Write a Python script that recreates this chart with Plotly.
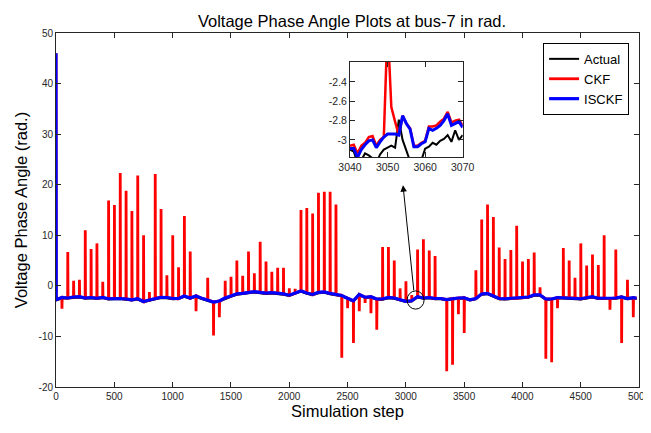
import plotly.graph_objects as go

# ---------------- data ----------------
x_ticks = [0, 500, 1000, 1500, 2000, 2500, 3000, 3500, 4000, 4500, 5000]
y_ticks = [-20, -10, 0, 10, 20, 30, 40, 50]
y_tick_labels = ["-20", "-10", "0", "10", "20", "30", "40", "50"]

init_step = 0
init_value = 46.0

base_steps = [2] + list(range(50, 4951, 50)) + [4980]
isckf_base = [
    -2.75, -2.3, -2.4, -2.2, -2.15, -2.4, -2.3, -2.45, -2.3, -2.55,
    -2.45, -2.5, -2.6, -2.75, -2.55, -3.1, -2.8, -2.45, -2.25, -2.3,
    -2.5, -2.5, -2.0, -2.4, -2.0, -2.45, -2.75, -3.2, -3.0, -2.4,
    -2.0, -1.6, -1.5, -1.3, -1.15, -1.3, -1.45, -1.35, -1.4, -1.6,
    -1.85, -1.45, -1.0, -1.4, -1.7, -1.3, -1.2, -1.5, -1.75, -1.9,
    -2.45, -2.95, -1.7, -2.25, -2.15, -2.6, -2.6, -2.3, -2.4, -2.75,
    -3.05, -2.94, -2.15, -2.4, -2.3, -2.5, -2.5, -2.7, -2.5, -2.4,
    -2.35, -2.75, -2.5, -1.6, -1.5, -2.0, -2.5, -2.55, -2.45, -2.45,
    -2.35, -2.2, -1.8, -1.8, -2.6, -2.6, -2.3, -2.35, -2.35, -2.4,
    -2.55, -2.35, -2.15, -2.45, -2.45, -2.5, -2.4, -2.2, -2.5, -2.35,
    -2.45,
]
actual_base = [
    -2.9, -2.45, -2.5, -2.35, -2.3, -2.55, -2.45, -2.6, -2.4, -2.7,
    -2.6, -2.6, -2.75, -2.9, -2.7, -3.25, -2.95, -2.6, -2.4, -2.45,
    -2.65, -2.6, -2.15, -2.55, -2.15, -2.6, -2.9, -3.35, -3.1, -2.55,
    -2.15, -1.75, -1.65, -1.45, -1.3, -1.45, -1.6, -1.5, -1.55, -1.75,
    -2.0, -1.6, -1.15, -1.55, -1.85, -1.45, -1.35, -1.65, -1.9, -2.05,
    -2.6, -3.1, -1.85, -2.4, -2.3, -2.75, -2.75, -2.45, -2.55, -2.9,
    -3.2, -3.08, -2.3, -2.55, -2.45, -2.65, -2.65, -2.85, -2.65, -2.55,
    -2.5, -2.9, -2.65, -1.75, -1.65, -2.15, -2.65, -2.7, -2.6, -2.6,
    -2.5, -2.35, -1.95, -1.95, -2.75, -2.75, -2.45, -2.5, -2.5, -2.55,
    -2.7, -2.5, -2.3, -2.6, -2.6, -2.65, -2.55, -2.35, -2.65, -2.5,
    -2.6,
]

spike_steps = [
    50, 100, 150, 200, 250, 300, 350, 400, 450, 500,
    550, 600, 650, 700, 750, 800, 850, 900, 950, 1000,
    1050, 1100, 1150, 1200, 1300, 1350, 1400, 1450, 1500, 1550,
    1600, 1650, 1700, 1750, 1800, 1850, 1900, 1950, 2000, 2050,
    2100, 2150, 2200, 2250, 2300, 2350, 2400, 2450, 2500, 2550,
    2600, 2650, 2700, 2750, 2800, 2850, 2900, 2950, 3000, 3050,
    3100, 3150, 3200, 3250, 3350, 3400, 3450, 3500, 3600, 3650,
    3700, 3750, 3800, 3850, 3900, 3950, 4000, 4050, 4100, 4150,
    4200, 4250, 4300, 4350, 4400, 4450, 4500, 4550, 4600, 4650,
    4700, 4750, 4800, 4850, 4900, 4950,
]
spike_values = [
    -4.5, 6.7, 1.0, 1.2, 11.0, 7.3, 8.4, 0.8, 16.9, 16.0,
    22.3, 18.8, 14.8, 21.8, 10.0, -1.2, 22.1, 15.2, 2.1, 10.0,
    3.7, 13.8, 6.8, -5.0, 1.6, -9.8, -6.2, 1.0, 1.8, 5.0,
    2.0, 6.8, 2.5, 8.7, 4.8, 2.8, 3.6, 3.6, -0.5, -0.6,
    15.0, 15.4, 14.3, 18.4, 18.6, 18.6, 16.1, -14.2, -4.4, -11.3,
    -5.0, -3.4, -5.4, -8.7, 7.7, 7.7, 5.0, -0.5, 0.9, -1.8,
    7.2, 9.2, 7.0, 5.9, -16.9, -15.6, -5.6, -9.3, 3.1, 13.1,
    16.1, 13.6, 7.6, 5.3, 7.1, 11.9, 4.8, 5.3, 6.6, -0.3,
    -14.4, -15.1, -4.4, 7.5, 5.0, 1.6, 8.4, 4.0, 6.2, 4.1,
    10.0, -4.7, 7.2, -11.3, 1.2, -6.2,
]

inset_steps = list(range(3040, 3071))
inset_actual = [
    -3.10, -3.12, -3.24, -3.21, -3.14, -3.16, -3.19, -3.24, -3.15, -3.10,
    -3.08, -3.06, -3.08, -2.79, -3.00, -3.10, -3.22, -3.27, -3.26, -3.21,
    -3.09, -3.07, -3.03, -3.05, -3.01, -2.99, -2.95, -3.02, -2.90, -3.00,
    -2.95,
]
inset_ckf = [
    -3.06, -3.05, -3.14, -3.06, -3.03, -2.97, -2.96, -3.06, -3.00, -2.97,
    -1.80, -2.66, -2.81, -2.95, -2.75, -2.83, -2.88, -3.06, -3.06, -3.03,
    -3.01, -2.86, -2.86, -2.85, -2.81, -2.78, -2.71, -2.82, -2.80, -2.79,
    -2.85,
]
inset_isckf = [
    -3.09, -3.09, -3.18, -3.10, -3.05, -3.01, -3.00, -3.08, -3.02, -2.97,
    -2.94, -2.94, -2.94, -2.95, -2.75, -2.83, -2.89, -3.07, -3.07, -3.04,
    -3.02, -2.88, -2.90, -2.88, -2.85, -2.80, -2.73, -2.85, -2.83, -2.81,
    -2.87,
]
inset_x_ticks = [3040, 3050, 3060, 3070]
inset_y_ticks = [-3.0, -2.8, -2.6, -2.4]
inset_y_labels = ["-3", "-2.8", "-2.6", "-2.4"]

# ---------------- build CKF polyline ----------------
spikes = dict(zip(spike_steps, spike_values))
ckf_x, ckf_y = [init_step], [init_value]
for s, b in zip(base_steps, isckf_base):
    ckf_x.append(s)
    ckf_y.append(b)
    if s in spikes:
        ckf_x += [s + 1, s + 3]
        ckf_y += [spikes[s], b]

isckf_x = [init_step] + base_steps
isckf_y = [init_value] + isckf_base

BLACK, RED, BLUE = "#000000", "#ff0000", "#0000ff"

fig = go.Figure()
fig.add_trace(go.Scatter(x=base_steps, y=actual_base, mode="lines", name="Actual",
                         line=dict(color=BLACK, width=2)))
fig.add_trace(go.Scatter(x=ckf_x, y=ckf_y, mode="lines", name="CKF",
                         line=dict(color=RED, width=2.8)))
fig.add_trace(go.Scatter(x=isckf_x, y=isckf_y, mode="lines", name="ISCKF",
                         line=dict(color=BLUE, width=3.2)))

# inset
fig.add_trace(go.Scatter(x=inset_steps, y=inset_actual, mode="lines", showlegend=False,
                         line=dict(color=BLACK, width=2), xaxis="x2", yaxis="y2"))
fig.add_trace(go.Scatter(x=inset_steps, y=inset_ckf, mode="lines", showlegend=False,
                         line=dict(color=RED, width=2.5), xaxis="x2", yaxis="y2"))
fig.add_trace(go.Scatter(x=inset_steps, y=inset_isckf, mode="lines", showlegend=False,
                         line=dict(color=BLUE, width=3), xaxis="x2", yaxis="y2"))


def axis_style(size):
    return dict(ticks="inside", ticklen=5, tickcolor="#262626", showline=True,
                linecolor="#262626", linewidth=1, mirror="ticks", showgrid=False,
                zeroline=False, automargin=False, tickfont=dict(size=size, color="#262626"))


# the page body adds an 8px offset, so the figure is 8px smaller on each axis
fig.update_layout(
    width=643, height=425,
    margin=dict(l=48, r=12, t=25, b=46, autoexpand=False),
    paper_bgcolor="white", plot_bgcolor="white",
    font=dict(family="Liberation Sans, Arial, sans-serif", size=10, color="#262626"),
    title=dict(text="Voltage Phase Angle Plots at bus-7 in rad.", x=0.535, xanchor="center",
               y=0.968, yanchor="middle", automargin=False, font=dict(size=16.5, color="black")),
    legend=dict(x=0.983, xanchor="right", y=0.972, yanchor="top", bgcolor="white",
                bordercolor="black", borderwidth=1, font=dict(size=13, color="black"),
                tracegroupgap=0),
    xaxis=dict(range=[0, 5000], tickvals=x_ticks, domain=[0, 1],
               title=dict(text="Simulation step", font=dict(size=16.5, color="black"), standoff=2),
               **axis_style(10)),
    yaxis=dict(range=[-20, 50], tickvals=y_ticks, ticktext=y_tick_labels, domain=[0, 1],
               title=dict(text="Voltage Phase Angle (rad.)", font=dict(size=16.5, color="black"), standoff=6),
               **axis_style(10)),
    xaxis2=dict(range=[3040, 3070], tickvals=inset_x_ticks, domain=[0.5043, 0.6976], anchor="y2",
                **axis_style(10.5)),
    yaxis2=dict(range=[-3.18, -2.19], tickvals=inset_y_ticks, ticktext=inset_y_labels,
                domain=[0.6489, 0.9189], anchor="x2", **axis_style(10.5)),
    shapes=[dict(type="circle", xref="x", yref="y", x0=3011, x1=3157, y0=-4.6, y1=-1.0,
                 line=dict(color="black", width=1))],
    annotations=[dict(x=2976, y=19.9, ax=3070, ay=-1.2, xref="x", yref="y", axref="x", ayref="y",
                      text="", showarrow=True, arrowhead=2, arrowsize=1.3, arrowwidth=1,
                      arrowcolor="black", standoff=0, startstandoff=0)],
)

fig.write_html("out.html")
